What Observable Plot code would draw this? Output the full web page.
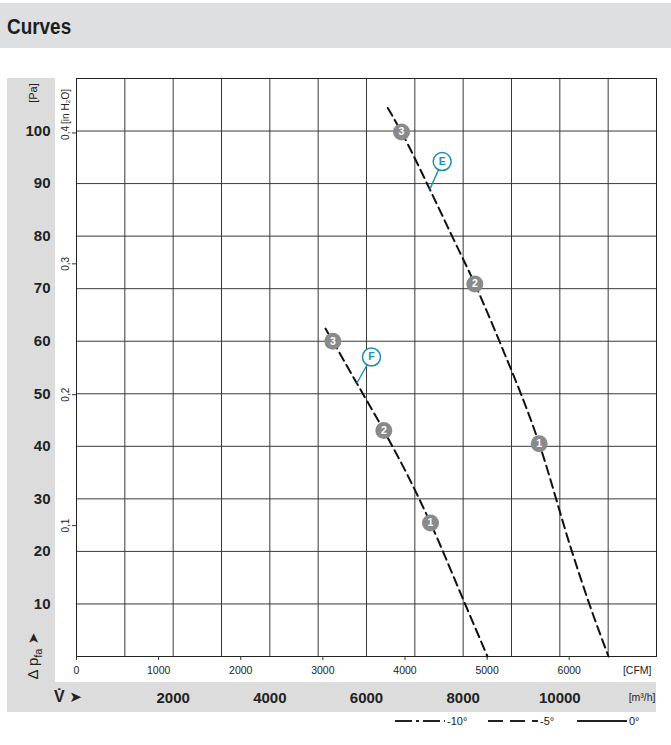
<!DOCTYPE html>
<html><head><meta charset="utf-8">
<script src="https://cdn.jsdelivr.net/npm/d3@7"></script>
<script src="https://cdn.jsdelivr.net/npm/@observablehq/plot@0.6"></script>
<style>
body{margin:0;background:#fff;}
#page{position:relative;width:671px;height:745px;overflow:hidden;font-family:"Liberation Sans",Arial,sans-serif;color:#222;}
#titlebar{position:absolute;left:0;top:3px;width:671px;height:45px;background:#dedfe0;}
#titlebar span{position:absolute;left:7px;top:11px;font-weight:bold;font-size:22px;line-height:26px;color:#1e1e1e;transform:scaleX(0.86);transform-origin:0 0;}
.band{position:absolute;background:#dcdcdc;}
#chart{position:absolute;left:0;top:50px;}
.rot{position:absolute;transform:translate(-50%,-50%) rotate(-90deg);white-space:nowrap;line-height:1;}
#legend{position:absolute;left:0;top:710px;}
</style></head>
<body><div id="page">
<div id="titlebar"><span>Curves</span></div>
<div class="band" style="left:7px;top:78px;width:48px;height:604px;"></div>
<div class="band" style="left:7px;top:682px;width:649px;height:30px;"></div>
<div id="chart"></div>
<div class="rot" style="left:33px;top:93px;font-size:11px;">[Pa]</div>
<div class="rot" style="left:34px;top:656px;font-size:15px;">Δ p<sub style="font-size:11px;">fa</sub> <span style="font-family:'DejaVu Sans';font-size:14px;">➤</span></div>
<div style="position:absolute;left:54px;top:688px;font-size:16px;font-weight:bold;line-height:18px;white-space:nowrap;">V&#x307; <span style="font-family:'DejaVu Sans';font-weight:normal;font-size:15px;">➤</span></div>
<div id="legend"></div>
</div>
<script>
// ---- data ----
const PA_PER_INH2O = 249.089;
const M3H_PER_CFM = 1.69901;
const flowGrid = [0,1000,2000,3000,4000,5000,6000,7000,8000,9000,10000,11000,12000]; // m³/h
const paGrid = [0,10,20,30,40,50,60,70,80,90,100,110];
const paLabels = [10,20,30,40,50,60,70,80,90,100];
const inH2OTicks = [0.1,0.2,0.3,0.4];
const inH2OLabels = ["0,1","0,2","0,3","0,4"];
const cfmTicks = [0,1000,2000,3000,4000,5000,6000];
const m3hLabels = [2000,4000,6000,8000,10000];

// curve E (-5°), m³/h vs Pa
const curveE_flow = [6441, 6724, 7310, 7770, 8241, 8750, 9573, 10250, 10610, 11007];
const curveE_pa   = [104.4, 99.8, 88.9, 80.0, 70.9, 60.0, 40.5, 20.0, 10.0, 0];
// curve F (-5°)
const curveF_flow = [5152, 5303, 5800, 6358, 6850, 7324, 8030, 8503];
const curveF_pa   = [62.4, 60.0, 52.0, 43.0, 34.5, 25.4, 10.2, 0];

// operating points
const pointFlow = [9573, 8241, 6724, 7324, 6358, 5303];
const pointPa   = [40.5, 70.9, 99.8, 25.4, 43.0, 60.0];
const pointNo   = ["1","2","3","1","2","3"];

// curve tags
const tagName = ["E","F"];
const tagFlow = [7566, 6103];
const tagPa   = [94.2, 57.0];
const tagLeaderFlow = [7310, 5800];
const tagLeaderPa   = [88.9, 52.0];

// legend
const legendLabels = ["-10°","-5°","0°"];
const legendDash = ["17,4,3,4","15,7",null];

// ---- build ----
const FONT = '"Liberation Sans",Arial,sans-serif';
const TEAL = "#1f8db2";
const GRID = "#3a3a3a";
const curveE = curveE_flow.map((x,i)=>({x, y: curveE_pa[i]}));
const curveF = curveF_flow.map((x,i)=>({x, y: curveF_pa[i]}));
const points = pointFlow.map((x,i)=>({x, y: pointPa[i], n: pointNo[i]}));
const tags = tagName.map((n,i)=>({n, x: tagFlow[i], y: tagPa[i], x2: tagLeaderFlow[i], y2: tagLeaderPa[i]}));

const chart = Plot.plot({
  width: 671, height: 690,
  marginLeft: 76, marginRight: 15, marginTop: 28, marginBottom: 84,
  x: {domain: [0, 12000], axis: null},
  y: {domain: [0, 110], axis: null},
  style: {background: "transparent", fontFamily: FONT, color: "#222"},
  marks: [
    Plot.gridX(flowGrid, {stroke: GRID, strokeOpacity: 1, strokeWidth: 1}),
    Plot.gridY(paGrid, {stroke: GRID, strokeOpacity: 1, strokeWidth: 1}),
    Plot.frame({stroke: "#222"}),
    Plot.axisY(paLabels, {tickSize: 0, tickPadding: 26, fontSize: 15, fontWeight: "bold", tickFormat: d => String(d)}),
    Plot.axisY(inH2OTicks.map(v => v*PA_PER_INH2O), {tickSize: 4, stroke: "#333", tickFormat: () => ""}),
    Plot.text(inH2OTicks, {y: d => d*PA_PER_INH2O, frameAnchor: "left", dx: -11, rotate: -90, text: (d,i) => inH2OLabels[i], fontSize: 10, textAnchor: "middle", lineAnchor: "middle"}),
    Plot.text(["[in H₂O]"], {y: () => inH2OTicks[3]*PA_PER_INH2O, frameAnchor: "left", dx: -11, dy: -9, rotate: -90, text: d => d, fontSize: 10, textAnchor: "start", lineAnchor: "middle"}),
    Plot.axisX(cfmTicks.map(c => c*M3H_PER_CFM), {tickSize: 4, tickPadding: 6, fontSize: 10.5, stroke: "#333", tickFormat: d => String(Math.round(d/M3H_PER_CFM))}),
    Plot.text(["[CFM]"], {frameAnchor: "bottom-right", dx: -5, dy: 14, text: d => d, fontSize: 10.5, textAnchor: "end", lineAnchor: "middle"}),
    Plot.axisX(m3hLabels, {tickSize: 0, tickPadding: 36, fontSize: 15, fontWeight: "bold", tickFormat: d => String(d)}),
    Plot.text(["[m³/h]"], {frameAnchor: "bottom-right", dx: -1, dy: 41, text: d => d, fontSize: 10.5, textAnchor: "end", lineAnchor: "middle"}),
    Plot.line(curveE, {x: "x", y: "y", stroke: "#111", strokeWidth: 2, strokeDasharray: "9,5", curve: "monotone-x"}),
    Plot.line(curveF, {x: "x", y: "y", stroke: "#111", strokeWidth: 2, strokeDasharray: "9,5", curve: "monotone-x"}),
    Plot.link(tags, {x1: "x", y1: "y", x2: "x2", y2: "y2", stroke: TEAL, strokeWidth: 1.4}),
    Plot.dot(tags, {x: "x", y: "y", r: 9, fill: "white", stroke: TEAL, strokeWidth: 1.5}),
    Plot.text(tags, {x: "x", y: "y", text: "n", fill: TEAL, fontSize: 10.5, fontWeight: "bold"}),
    Plot.dot(points, {x: "x", y: "y", r: 8.5, fill: "#8a8a8a"}),
    Plot.text(points, {x: "x", y: "y", text: "n", fill: "white", fontSize: 10.5, fontWeight: "bold"})
  ]
});
document.getElementById("chart").append(chart);

// legend (below chart)
const lsvg = d3.select("#legend").append("svg").attr("width", 671).attr("height", 24);
const lx = [395, 488, 577];
legendLabels.forEach((lab, i) => {
  const l = lsvg.append("line").attr("x1", lx[i]).attr("x2", lx[i] + 50).attr("y1", 11).attr("y2", 11)
    .attr("stroke", "#222").attr("stroke-width", 2);
  if (legendDash[i]) l.attr("stroke-dasharray", legendDash[i]);
  lsvg.append("text").attr("x", lx[i] + 52).attr("y", 15).attr("font-size", 11)
    .attr("font-family", FONT).attr("fill", "#222").text(lab);
});
</script>
</body></html>
